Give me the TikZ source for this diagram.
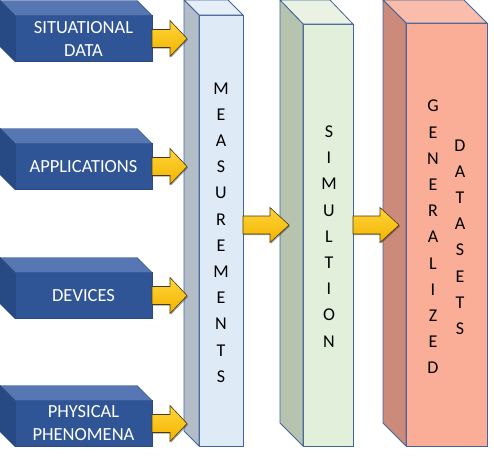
\documentclass[tikz,border=0pt]{standalone}
\usepackage{fontspec}
\setmainfont{Carlito}
\usetikzlibrary{calc,shadows}
\definecolor{bfront}{HTML}{2F5597}
\definecolor{btop}{HTML}{5677B3}
\definecolor{bside}{HTML}{284A84}
\definecolor{bedge}{HTML}{2A4A80}
\definecolor{mfront}{HTML}{DEEBF7}
\definecolor{mside}{HTML}{B3BDC8}
\definecolor{mtop}{HTML}{E6EEF8}
\definecolor{sfront}{HTML}{E2EFDA}
\definecolor{sside}{HTML}{B6C4AF}
\definecolor{stop}{HTML}{E9F2E3}
\definecolor{gfront}{HTML}{FAAE97}
\definecolor{gside}{HTML}{CC8B7A}
\definecolor{gtop}{HTML}{FBBDAB}
\definecolor{cedge}{HTML}{42639B}
\definecolor{ytop}{HTML}{FFD43A}
\definecolor{ybot}{HTML}{F2B400}
\definecolor{yedge}{HTML}{4A3A10}
\begin{document}
\begin{tikzpicture}[x=1pt,y=-1pt,
  bbox/.style={fill=bfront,draw=bedge,line width=0.4pt,inner sep=0pt,outer sep=0pt,
    minimum width=137pt,minimum height=46pt,text=white,align=center,
    font=\fontsize{18.5}{23}\selectfont},
  bface/.style={draw=bedge,line width=0.4pt,line join=round},
  col/.style={draw=cedge,line width=0.8pt,inner sep=0pt,outer sep=0pt},
  cface/.style={draw=cedge,line width=0.8pt,line join=round},
  ctext/.style={align=center,inner sep=0pt,font=\fontsize{18}{26.2}\selectfont},
  yarr/.style={top color=ytop,bottom color=ybot,draw=yedge,line width=0.6pt,line join=miter,
    drop shadow={shadow xshift=1pt,shadow yshift=-1.2pt,opacity=0.35,fill=black}}]
\useasboundingbox (0,0) rectangle (494,458);

% ---- left blue boxes ----
\foreach \n/\y/\t in {s1/38.5/{SITUATIONAL\\DATA},s2/166.5/{APPLICATIONS},s3/295.5/{DEVICES},s4/423.5/{PHYSICAL\\PHENOMENA}}{
  \node[bbox] (\n) at (83.5,\y) {\t};
  \filldraw[bface,fill=btop] (\n.north west) -- ++(-15,-15) -- ++(137,0) -- (\n.north east) -- cycle;
  \filldraw[bface,fill=bside] (\n.north west) -- ++(-15,-15) -- ($(\n.south west)+(-15,-15)$) -- (\n.south west) -- cycle;
}

% ---- columns ----
\node[col,fill=mfront,minimum width=44pt,minimum height=431pt] (meas) at (221,230.5) {};
\filldraw[cface,fill=mtop] (meas.north west) -- ++(-15,-15) -- ++(44,0) -- (meas.north east) -- cycle;
\filldraw[cface,fill=mside] (meas.north west) -- ++(-15,-15) -- ($(meas.south west)+(-15,-15)$) -- (meas.south west) -- cycle;
\node[ctext] (meast) at (221,232.5) {M\\E\\A\\S\\U\\R\\E\\M\\E\\N\\T\\S};

\node[col,fill=sfront,minimum width=50pt,minimum height=422pt] (sim) at (328,235) {};
\filldraw[cface,fill=stop] (sim.north west) -- ++(-23,-24) -- ++(50,0) -- (sim.north east) -- cycle;
\filldraw[cface,fill=sside] (sim.north west) -- ++(-23,-24) -- ($(sim.south west)+(-23,-23)$) -- (sim.south west) -- cycle;
\node[ctext] (simt) at (329,236.5) {S\\I\\M\\U\\L\\T\\I\\O\\N};

\node[col,fill=gfront,minimum width=81pt,minimum height=423pt] (gen) at (446.5,234.5) {};
\filldraw[cface,fill=gtop] (gen.north west) -- ++(-23,-23) -- ++(81,0) -- (gen.north east) -- cycle;
\filldraw[cface,fill=gside] (gen.north west) -- ++(-23,-23) -- ($(gen.south west)+(-23,-23)$) -- (gen.south west) -- cycle;
\node[ctext] (gent) at (433,237) {G\\E\\N\\E\\R\\A\\L\\I\\Z\\E\\D};
\node[ctext] (datt) at (460,237) {D\\A\\T\\A\\S\\E\\T\\S};

% ---- yellow block arrows ----
\foreach \n in {s1,s2,s3,s4}{
  \draw[yarr] (\n.east) ++(0,-9) -- ++(18,0) -- ++(0,-9) -- ++(17,18) -- ++(-17,18) -- ++(0,-9) -- ++(-18,0) -- cycle;
}
\draw[yarr] ($(meas.east)+(0,-5.5)$) ++(0,-9) -- ++(27,0) -- ++(0,-8.5) -- ++(19,17.5) -- ++(-19,17.5) -- ++(0,-8.5) -- ++(-27,0) -- cycle;
\draw[yarr] ($(sim.east)+(0,-10)$) ++(0,-9) -- ++(27,0) -- ++(0,-8.5) -- ++(19,17.5) -- ++(-19,17.5) -- ++(0,-8.5) -- ++(-27,0) -- cycle;
\end{tikzpicture}
\end{document}
